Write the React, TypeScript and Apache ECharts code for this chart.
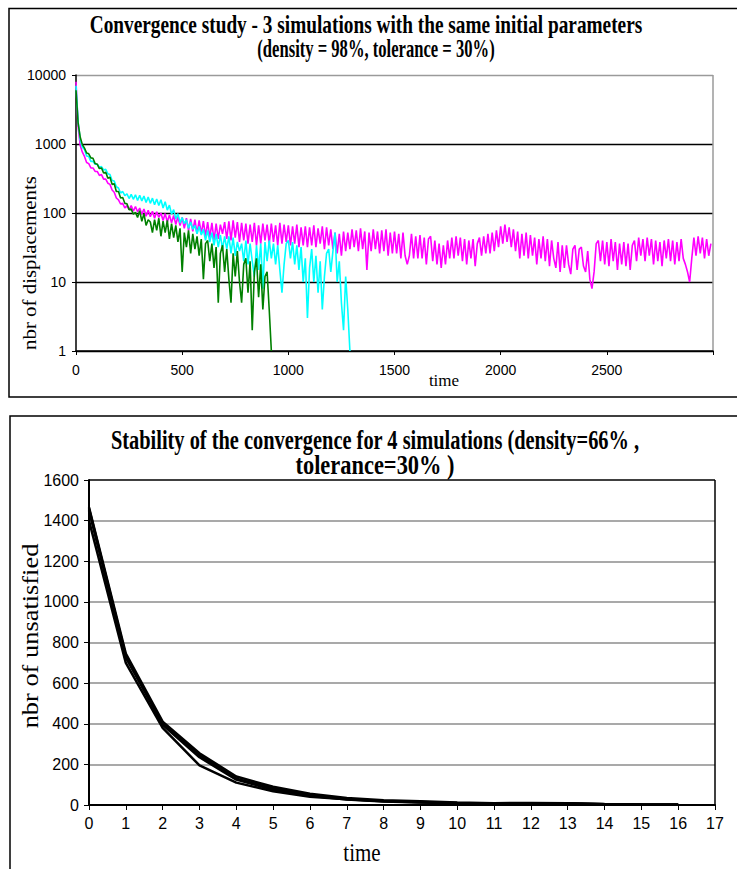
import React, { useEffect, useRef } from "react";
import * as echarts from "echarts";

// ---------- Top chart: 3 simulations, sampled every 10 time units ----------
const TIME_STEP = 10;

const MAGENTA_SIM = [
  8000, 1800, 950, 760, 660, 540, 520, 450, 450, 400,
  400, 350, 360, 310, 310, 270, 260, 215, 200, 165,
  155, 135, 138, 118, 128, 112, 128, 106, 124, 104,
  118, 96, 114, 90, 110, 88, 106, 84, 104, 86,
  100, 78, 98, 74, 94, 72, 92, 68, 88, 66,
  86, 60, 84, 56, 82, 54, 80, 50, 78, 50,
  76, 46, 74, 44, 72, 40, 70, 42, 68, 50,
  74, 42, 76, 40, 78, 44, 74, 38, 72, 40,
  70, 36, 68, 38, 72, 34, 66, 36, 70, 40,
  68, 36, 70, 38, 66, 34, 72, 36, 68, 38,
  66, 34, 64, 36, 68, 32, 62, 34, 64, 32,
  62, 34, 66, 32, 60, 36, 64, 30, 62, 34,
  58, 30, 52, 26, 50, 24, 54, 28, 52, 30,
  58, 32, 56, 28, 60, 30, 54, 15, 52, 28,
  58, 30, 54, 26, 56, 28, 58, 24, 52, 26,
  54, 26, 50, 22, 52, 24, 18, 24, 50, 22,
  46, 22, 48, 22, 44, 18, 42, 46, 20, 40,
  18, 36, 16, 34, 18, 40, 22, 44, 22, 46,
  24, 44, 20, 42, 18, 40, 22, 42, 17, 36,
  44, 24, 46, 26, 50, 26, 52, 28, 56, 32,
  64, 36, 68, 38, 62, 32, 58, 28, 54, 22,
  50, 24, 52, 22, 48, 24, 44, 18, 42, 22,
  46, 20, 42, 17, 40, 22, 16, 38, 14, 34,
  16, 34, 18, 13, 30, 34, 15, 30, 32, 17,
  14, 28, 11, 8, 14, 36, 40, 20, 40, 18,
  38, 17, 42, 20, 38, 15, 36, 18, 38, 17,
  36, 15, 34, 40, 20, 44, 24, 42, 20, 44,
  24, 42, 18, 40, 20, 38, 17, 40, 22, 42,
  20, 40, 18, 38, 20, 42, 22, 18, 14, 10,
  22, 44, 24, 46, 26, 44, 22, 42, 24, 36,
];

const CYAN_SIM = [
  7000, 2100, 1150, 900, 830, 670, 660, 560, 560, 510,
  510, 460, 470, 420, 430, 370, 360, 295, 290, 240,
  230, 195, 205, 178, 190, 162, 186, 158, 184, 152,
  180, 150, 176, 142, 170, 138, 164, 132, 160, 128,
  156, 118, 146, 110, 130, 96, 112, 82, 98, 72,
  86, 70, 80, 60, 74, 58, 66, 50, 64, 48,
  58, 40, 56, 38, 52, 34, 50, 32, 48, 30,
  46, 30, 46, 26, 44, 24, 38, 28, 36, 20,
  40, 18, 36, 20, 12, 34, 15, 36, 8, 38,
  20, 40, 22, 36, 18, 34, 15, 7, 18, 36,
  40, 22, 38, 18, 34, 15, 32, 10, 22, 3,
  16, 30, 10, 24, 7, 20, 4, 12, 26, 30,
  14, 28, 52, 10, 20, 5, 2, 12, 4, 1,
];

const GREEN_SIM = [
  6000, 2000, 1250, 980, 870, 740, 720, 630, 620, 520,
  510, 440, 450, 380, 390, 320, 330, 260, 265, 205,
  205, 165, 168, 138, 136, 112, 114, 96, 102, 86,
  108, 76, 98, 66, 80, 74, 52, 80, 56, 84,
  46, 76, 52, 78, 42, 70, 44, 66, 38, 60,
  14, 52, 32, 56, 26, 50, 30, 46, 24, 42,
  11, 36, 40, 20, 36, 16, 32, 5, 26, 34,
  14, 30, 11, 5, 26, 12, 28, 10, 5, 18,
  22, 7, 20, 2, 14, 22, 6, 18, 4, 12,
  14, 4, 1,
];

// ---------- Bottom chart: 4 simulations ----------
const STEPS = [0, 1, 2, 3, 4, 5, 6, 7, 8, 9, 10, 11, 12, 13, 14, 15, 16];
const SIM_A = [1465, 745, 410, 255, 140, 90, 55, 35, 24, 18, 12, 9, 10, 9, 5, 3, 2];
const SIM_B = [1450, 725, 400, 245, 130, 82, 48, 30, 20, 15, 10, 8, 8, 7, 4, 2, 1];
const SIM_C = [1400, 700, 380, 195, 110, 68, 40, 28, 18, 13, 8, 6, 5, 5, 3, 1, 1];
const SIM_D = [1460, 735, 395, 235, 125, 75, 45, 27, 17, 12, 9, 7, 9, 8, 4, 2, 1];

const TOP_TITLE_1 = "Convergence study - 3 simulations with the same initial parameters";
const TOP_TITLE_2 = "(density = 98%, tolerance = 30%)";
const BOTTOM_TITLE_1 = "Stability of the convergence for 4 simulations (density=66% ,";
const BOTTOM_TITLE_2 = "tolerance=30% )";

const SANS = "Liberation Sans";
const SERIF = "Liberation Serif";

function toPairs(values: number[]) {
  return values.map((v, i) => [i * TIME_STEP, v]);
}

export default function App() {
  const ref = useRef<HTMLDivElement>(null);

  useEffect(() => {
    if (!ref.current) return;
    const chart = echarts.init(ref.current, undefined, { renderer: "svg" });

    const topSplitX = Array(6).fill("rgba(0,0,0,0)").concat(["#9a9a9a"]);
    const topSplitY = ["#000", "#000", "#000", "#000", "#9a9a9a"];
    const botSplitX = Array(17).fill("rgba(0,0,0,0)").concat(["#000"]);
    const botSplitY = ["#000", "#8c8c8c", "#8c8c8c", "#8c8c8c", "#8c8c8c", "#8c8c8c", "#8c8c8c", "#8c8c8c", "#000"];

    const bottomLine = (data: number[]) => ({
      type: "line",
      xAxisIndex: 1,
      yAxisIndex: 1,
      data: STEPS.map((t, i) => [t, data[i]]),
      showSymbol: false,
      lineStyle: { color: "#000", width: 2.5 },
      z: 3,
    });

    const topLine = (data: number[], color: string, z: number) => ({
      type: "line",
      xAxisIndex: 0,
      yAxisIndex: 0,
      data: toPairs(data),
      showSymbol: false,
      lineStyle: { color, width: 1.6 },
      z,
    });

    const text = (
      t: string, x: number, y: number, size: number, bold: boolean,
      extra: Record<string, unknown> = {}
    ) => ({
      type: "text",
      x,
      y,
      silent: true,
      ...extra,
      style: {
        text: t,
        fill: "#000",
        fontSize: size,
        fontFamily: SERIF,
        fontWeight: bold ? "bold" : "normal",
        textAlign: "center",
        textVerticalAlign: "middle",
        align: "center",
        verticalAlign: "middle",
      },
    });

    chart.setOption({
      animation: false,
      backgroundColor: "#fff",
      grid: [
        { left: 76, top: 75, width: 637, height: 276 },
        { left: 89, top: 480, width: 626, height: 325 },
      ],
      xAxis: [
        {
          gridIndex: 0,
          type: "value",
          min: 0,
          max: 3000,
          interval: 500,
          axisLine: { show: true, lineStyle: { color: "#000", width: 1.5 } },
          axisTick: { show: true, length: 4, lineStyle: { color: "#000" } },
          axisLabel: {
            fontSize: 14,
            fontFamily: SANS,
            color: "#000",
            margin: 12,
            formatter: (v: number) => (v === 3000 ? "" : String(v)),
          },
          splitLine: { show: true, lineStyle: { color: topSplitX, width: 1.5 } },
        },
        {
          gridIndex: 1,
          type: "value",
          min: 0,
          max: 17,
          interval: 1,
          axisLine: { show: true, lineStyle: { color: "#000", width: 2 } },
          axisTick: { show: true, length: 5, lineStyle: { color: "#000" } },
          axisLabel: {
            fontSize: 16,
            fontFamily: SANS,
            color: "#000",
            margin: 10,
            formatter: (v: number) => String(v),
          },
          splitLine: { show: true, lineStyle: { color: botSplitX, width: 1.5 } },
        },
      ],
      yAxis: [
        {
          gridIndex: 0,
          type: "log",
          logBase: 10,
          min: 1,
          max: 10000,
          axisLine: { show: true, lineStyle: { color: "#000", width: 1.5 } },
          axisTick: { show: true, length: 4, lineStyle: { color: "#000" } },
          axisLabel: {
            fontSize: 14,
            fontFamily: SANS,
            color: "#000",
            margin: 10,
            formatter: (v: number) => String(Math.round(v)),
          },
          splitLine: { show: true, lineStyle: { color: topSplitY, width: 1.3 } },
        },
        {
          gridIndex: 1,
          type: "value",
          min: 0,
          max: 1600,
          interval: 200,
          axisLine: { show: true, lineStyle: { color: "#000", width: 2 } },
          axisTick: { show: true, length: 5, lineStyle: { color: "#000" } },
          axisLabel: {
            fontSize: 16,
            fontFamily: SANS,
            color: "#000",
            margin: 10,
            formatter: (v: number) => String(v),
          },
          splitLine: { show: true, lineStyle: { color: botSplitY, width: 1.5 } },
        },
      ],
      series: [
        topLine(MAGENTA_SIM, "#ff00ff", 3),
        topLine(CYAN_SIM, "#00ffff", 4),
        topLine(GREEN_SIM, "#008000", 5),
        bottomLine(SIM_A),
        bottomLine(SIM_B),
        bottomLine(SIM_C),
        bottomLine(SIM_D),
      ],
      graphic: [
        {
          type: "rect",
          silent: true,
          shape: { x: 9, y: 8.5, width: 740, height: 388.5 },
          style: { fill: "none", stroke: "#000", lineWidth: 1.5 },
        },
        {
          type: "rect",
          silent: true,
          shape: { x: 10, y: 416, width: 740, height: 470 },
          style: { fill: "none", stroke: "#000", lineWidth: 1.5 },
        },
        text(TOP_TITLE_1, 366, 25, 19.3, true, { scaleY: 1.3 }),
        text(TOP_TITLE_2, 376, 49, 19.3, true, { scaleY: 1.3, scaleX: 0.86 }),
        text(BOTTOM_TITLE_1, 375, 440, 20.4, true, { scaleY: 1.3 }),
        text(BOTTOM_TITLE_2, 375, 465, 20.4, true, { scaleY: 1.3, scaleX: 1.1 }),
        text("nbr of displacements", 29, 263, 18.5, false, { rotation: Math.PI / 2, scaleX: 1.13 }),
        text("nbr of unsatisfied", 30, 636, 24, false, { rotation: Math.PI / 2, scaleX: 1.1 }),
        text("time", 444, 380, 17, false),
        text("time", 362, 852, 21, false, { scaleY: 1.2 }),
      ],
    });

    return () => chart.dispose();
  }, []);

  return (
    <div
      ref={ref}
      style={{ position: "absolute", left: 0, top: 0, width: 737, height: 869 }}
    />
  );
}
